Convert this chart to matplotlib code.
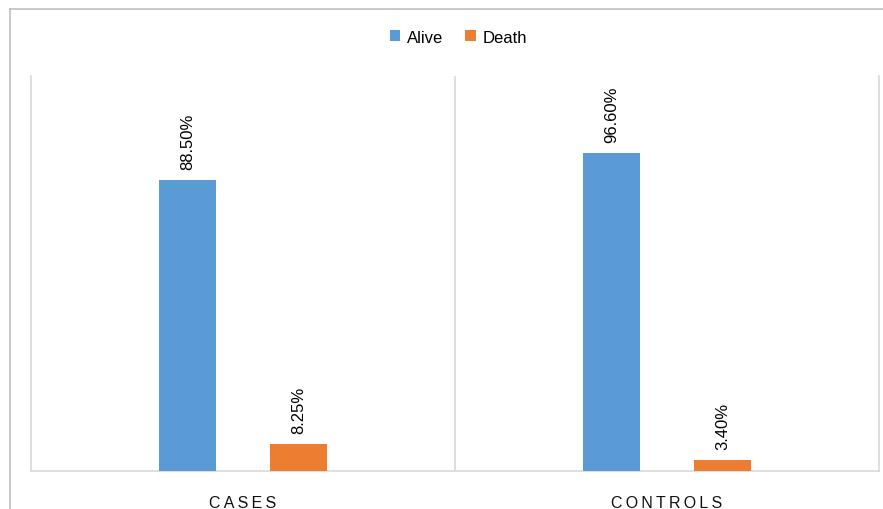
import numpy as np
import matplotlib.pyplot as plt
from matplotlib.lines import Line2D

plt.rcParams['font.family'] = ['Liberation Sans', 'DejaVu Sans']

groups = ['CASES', 'CONTROLS']
alive = [88.50, 96.60]
death = [8.25, 3.40]
series = [('Alive', alive, '#5B9BD5'), ('Death', death, '#ED7D31')]

fig = plt.figure(figsize=(8.83, 5.10), dpi=100)
ax = fig.add_axes([0.0351, 0.0745, 0.9604, 0.7745])

x = np.arange(len(groups))
width = 0.135
offsets = [-0.1305, 0.1305]

for (name, vals, color), off in zip(series, offsets):
    bars = ax.bar(x + off, vals, width, color=color, label=name, zorder=3)
    for b, v in zip(bars, vals):
        ax.annotate(f'{v:.2f}%', (b.get_x() + b.get_width() / 2, v),
                    xytext=(0, 8), textcoords='offset points',
                    rotation=90, ha='center', va='bottom', fontsize=12,
                    color='#000000')

ax.set_xlim(-0.5, len(groups) - 0.5)
ax.set_ylim(0, 120)
ax.set_yticks([])

# category separators like an Excel chart
for b in np.arange(0.5, len(groups) - 0.5, 1):
    ax.axvline(b, color='#d9d9d9', lw=1.2, zorder=1)

ax.set_xticks(x)
ax.set_xticklabels(['\u2009'.join(g) for g in groups], fontsize=11.5, color='#111111')
ax.tick_params(axis='x', length=0, pad=17)

for s in ['left', 'right', 'bottom']:
    ax.spines[s].set_color('#d9d9d9')
    ax.spines[s].set_linewidth(1.2)
ax.spines['top'].set_visible(False)

fig.legend(loc='center', bbox_to_anchor=(0.519, 0.925), ncol=2, frameon=False,
           fontsize=12, handlelength=0.65, handleheight=0.65, handletextpad=0.4,
           columnspacing=1.3)

# outer chart frame
fig.add_artist(Line2D([10 / 883, 1], [1 - 10 / 510] * 2, color='#bfbfbf', lw=1.2,
                      transform=fig.transFigure))
fig.add_artist(Line2D([10 / 883] * 2, [0, 1 - 10 / 510], color='#bfbfbf', lw=1.2,
                      transform=fig.transFigure))

fig.savefig('out.png', dpi=100)
